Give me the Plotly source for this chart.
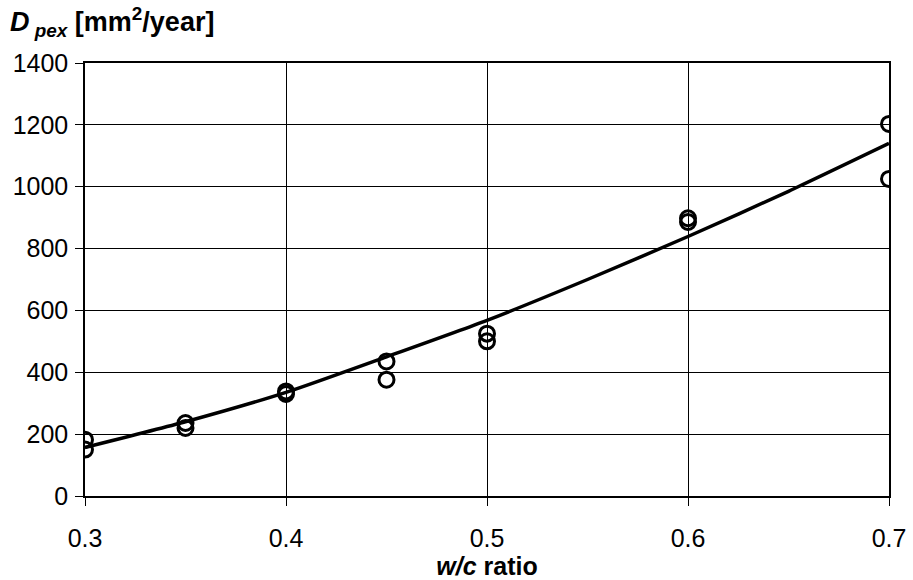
import plotly.graph_objects as go

# Measured diffusion coefficients per w/c ratio (two specimens each)
wc_points = [0.3, 0.3, 0.35, 0.35, 0.4, 0.4, 0.45, 0.45, 0.5, 0.5, 0.6, 0.6, 0.7, 0.7]
d_points = [182, 150, 236, 220, 338, 330, 435, 376, 525, 500, 898, 886, 1203, 1025]

# Fitted trend curve
wc_fit = [0.3, 0.35, 0.4, 0.45, 0.5, 0.55, 0.6, 0.65, 0.7]
d_fit = [157, 240, 335, 450, 568, 700, 839, 985, 1140]

x_ticks = [0.3, 0.4, 0.5, 0.6, 0.7]
x_labels = ["0.3", "0.4", "0.5", "0.6", "0.7"]
y_ticks = [0, 200, 400, 600, 800, 1000, 1200, 1400]

FONT = "Liberation Sans, Arial, sans-serif"

fig = go.Figure()
fig.add_trace(go.Scatter(
    x=wc_fit, y=d_fit, mode="lines",
    line=dict(color="black", width=3.5, shape="spline", smoothing=0.6),
    hoverinfo="skip", showlegend=False,
))
fig.add_trace(go.Scatter(
    x=wc_points, y=d_points, mode="markers",
    marker=dict(symbol="circle-open", size=15, color="black", line=dict(width=3)),
    showlegend=False,
))

W, H = 913, 580
L, R, T, B = 85, 24, 63, 84
pw = W - L - R
ph = H - T - B

fig.update_layout(
    width=W, height=H,
    margin=dict(l=L, r=R, t=T, b=B),
    plot_bgcolor="white", paper_bgcolor="white",
    font=dict(family=FONT, size=25, color="black"),
    xaxis=dict(
        range=[0.3, 0.7], tickvals=x_ticks, ticktext=x_labels,
        showgrid=True, gridcolor="black", gridwidth=1.2,
        showline=True, linecolor="black", linewidth=1.5, mirror=True,
        ticks="outside", ticklen=8, tickcolor="black", tickwidth=1.2,
        ticklabelstandoff=11, automargin=False,
        zeroline=False,
        title=dict(text="<b><i>w/c</i> ratio</b>", font=dict(size=25), standoff=3),
    ),
    yaxis=dict(
        range=[0, 1400], tickvals=y_ticks,
        showgrid=True, gridcolor="black", gridwidth=1.2,
        showline=True, linecolor="black", linewidth=1.5, mirror=True,
        ticks="outside", ticklen=8, tickcolor="black", tickwidth=1.2,
        ticklabelstandoff=2, automargin=False,
        zeroline=False,
    ),
    annotations=[dict(
        text="<b><i>D</i></b><sub><b><i> pex</i></b></sub><b> [mm<sup>2</sup>/year]</b>",
        xref="paper", yref="paper",
        x=(8 - L) / pw, y=(H - B - 22) / ph,
        xanchor="left", yanchor="middle",
        showarrow=False, font=dict(size=27),
    )],
)

fig.write_html("out.html")
